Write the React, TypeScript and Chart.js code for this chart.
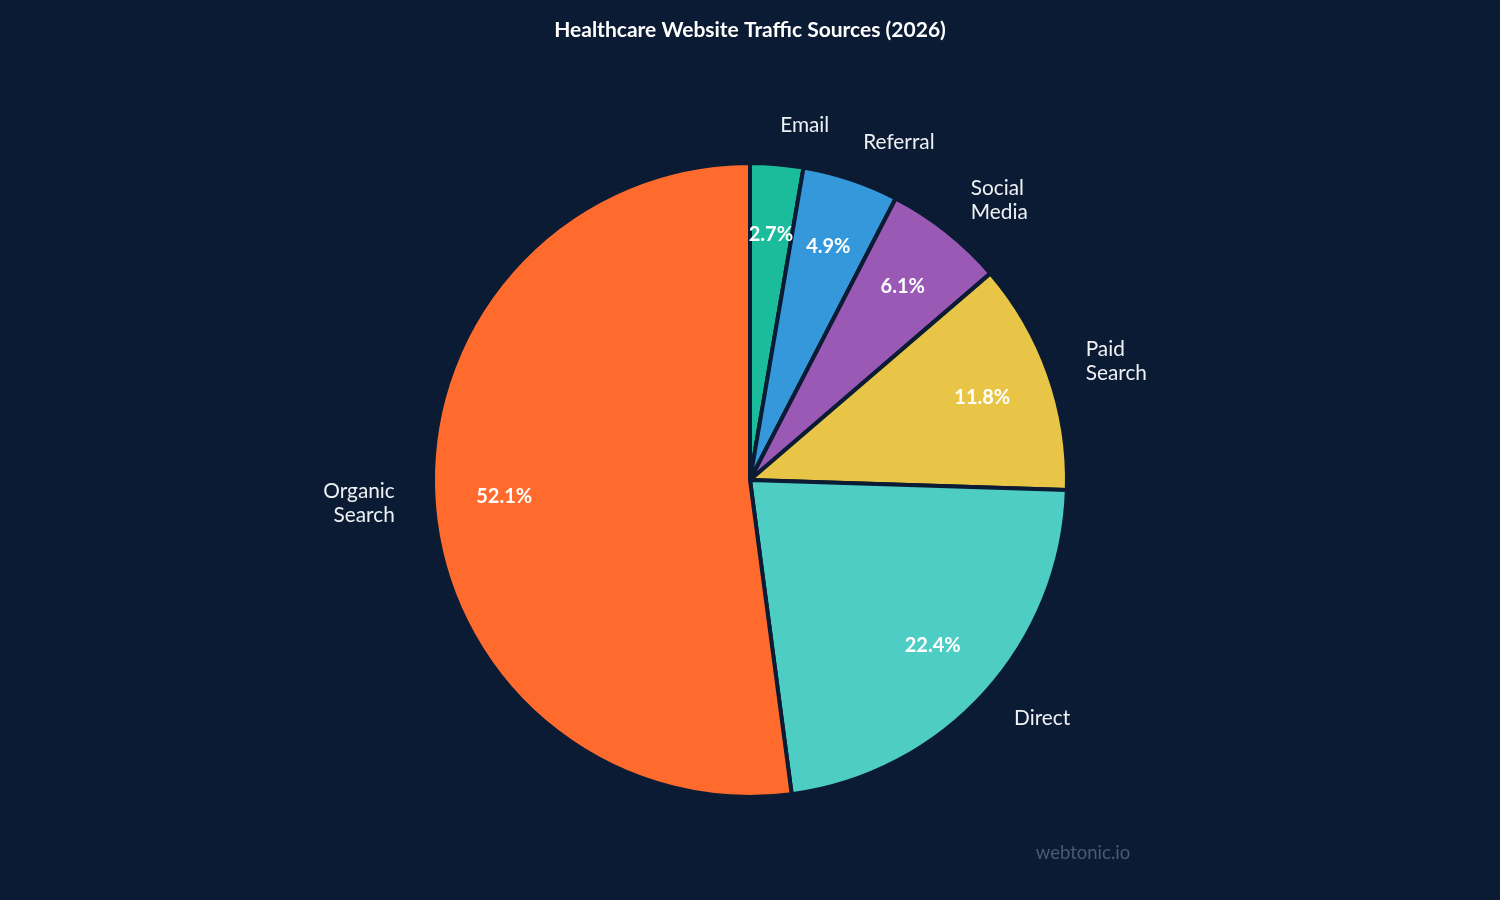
import React, { useEffect, useRef } from "react";
import { Chart, registerables } from "chart.js";

Chart.register(...registerables);

const TITLE = "Healthcare Website Traffic Sources (2026)";
const WATERMARK = "webtonic.io";
const categories = ["Email", "Referral", "Social\nMedia", "Paid\nSearch", "Direct", "Organic\nSearch"];
const shares = [2.7, 4.9, 6.1, 11.8, 22.4, 52.1];
const sliceColors = ["#1abc9c", "#3498db", "#9b59b6", "#e8c547", "#4ecdc4", "#ff6b2c"];

const BG = "#0b1b33";
const FONT = "Lato, 'Open Sans', sans-serif";

const labelPlugin = {
  id: "sliceLabels",
  afterDatasetsDraw(chart: any) {
    const ctx = chart.ctx as CanvasRenderingContext2D;
    const meta = chart.getDatasetMeta(0);
    const data = chart.data.datasets[0].data as number[];
    const total = data.reduce((a, b) => a + b, 0);
    ctx.save();
    meta.data.forEach((arc: any, i: number) => {
      const p = arc.getProps(["x", "y", "startAngle", "endAngle", "outerRadius"], true);
      const mid = (p.startAngle + p.endAngle) / 2;
      const c = Math.cos(mid);
      const s = Math.sin(mid);
      // percentage inside
      const rIn = p.outerRadius * 0.777;
      ctx.fillStyle = "#ffffff";
      ctx.font = `bold 20px ${FONT}`;
      ctx.textAlign = "center";
      ctx.textBaseline = "middle";
      ctx.fillText(((data[i] / total) * 100).toFixed(1) + "%", p.x + c * rIn, p.y + s * rIn);
      // category outside
      const rOut = p.outerRadius + 39;
      const lx = p.x + c * rOut;
      const ly = p.y + s * rOut;
      const lines = String(chart.data.labels[i]).split("\n");
      const lh = 24;
      ctx.font = `20.8px ${FONT}`;
      ctx.fillStyle = "#eef1f5";
      ctx.textAlign = c >= 0 ? "left" : "right";
      lines.forEach((ln, k) => {
        ctx.fillText(ln, lx, ly + (k - (lines.length - 1) / 2) * lh);
      });
    });
    // title & watermark
    ctx.textAlign = "center";
    ctx.textBaseline = "middle";
    ctx.fillStyle = "#ffffff";
    ctx.font = `bold 21px ${FONT}`;
    ctx.fillText(TITLE, chart.width / 2, 30);
    ctx.fillStyle = "#4a5a72";
    ctx.font = `18.5px ${FONT}`;
    ctx.fillText(WATERMARK, 1083, 853);
    ctx.restore();
  },
};

export default function App() {
  const ref = useRef<HTMLCanvasElement | null>(null);
  useEffect(() => {
    if (!ref.current) return;
    const chart = new Chart(ref.current, {
      type: "pie",
      data: {
        labels: categories,
        datasets: [
          {
            data: shares,
            backgroundColor: sliceColors,
            borderColor: BG,
            borderWidth: 4,
          },
        ],
      },
      options: {
        responsive: false,
        animation: false,
        layout: { padding: { top: 161, bottom: 101, left: 0, right: 0 } },
        plugins: {
          legend: { display: false },
          title: { display: false },
          tooltip: { enabled: false },
        },
      },
      plugins: [labelPlugin],
    });
    return () => chart.destroy();
  }, []);
  return (
    <div style={{ position: "absolute", left: 0, top: 0, width: 1500, height: 900, background: BG }}>
      <canvas ref={ref} width={1500} height={900} style={{ display: "block" }} />
    </div>
  );
}
